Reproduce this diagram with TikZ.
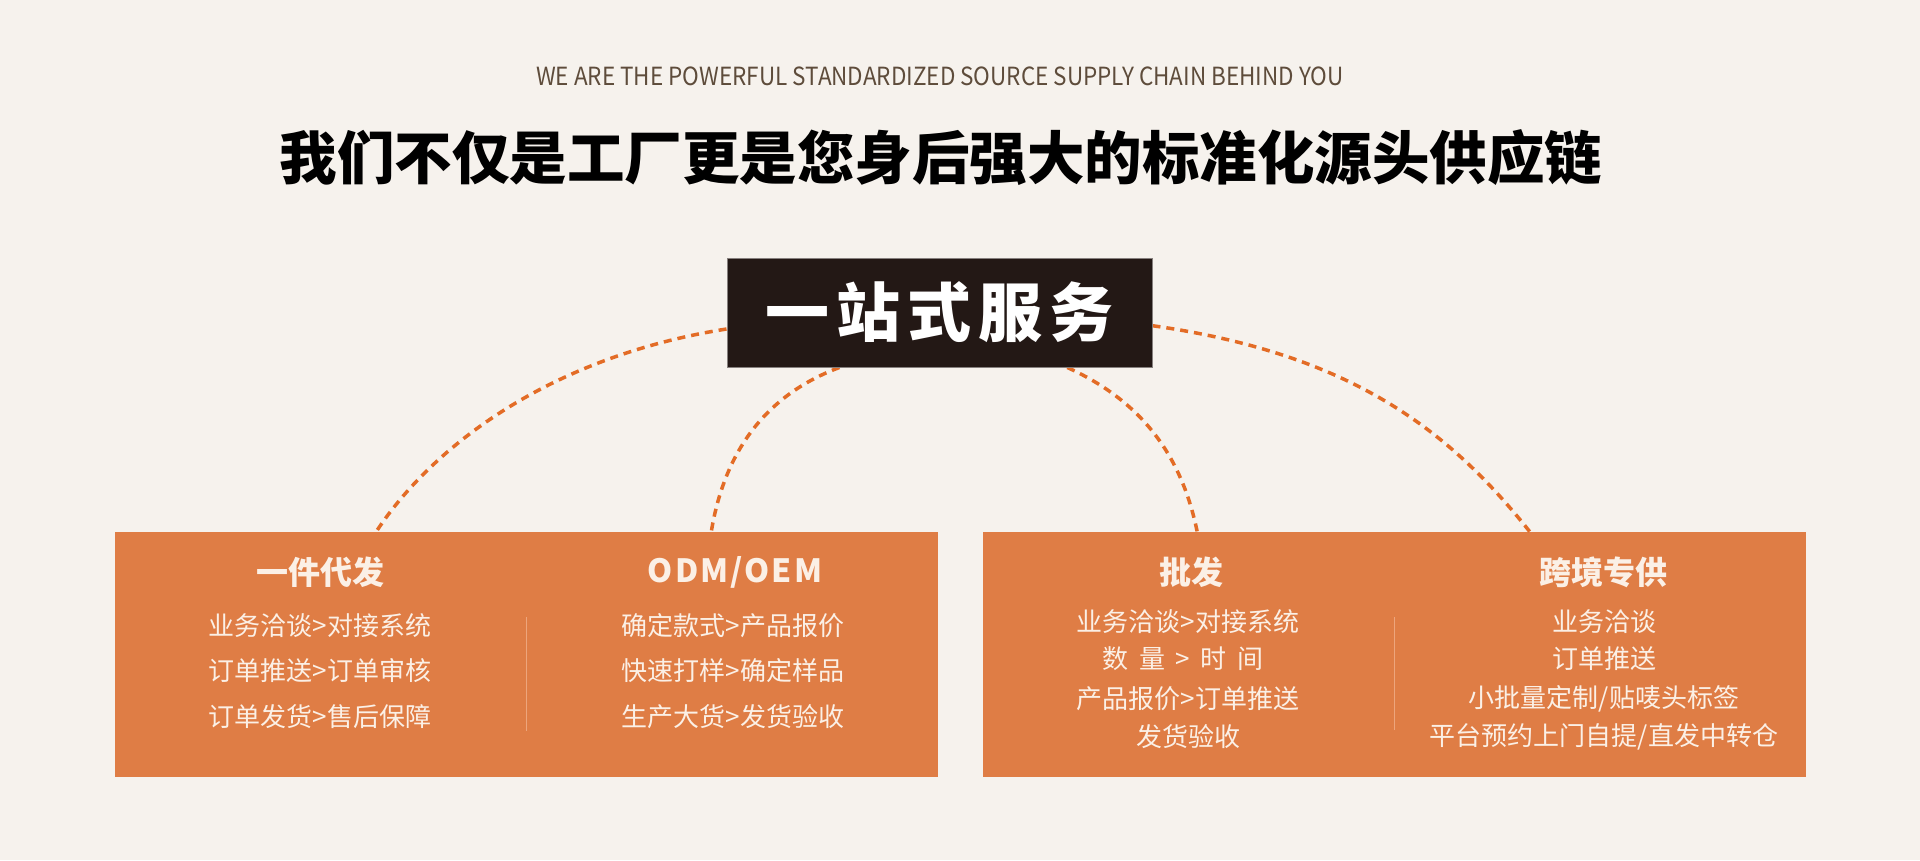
\documentclass[tikz,border=0pt]{standalone}
\usepackage{fontspec}
\setmainfont{Noto Sans CJK SC}
\usetikzlibrary{calc}
\definecolor{bg}{HTML}{F6F2ED}
\definecolor{cardcol}{HTML}{DF7D45}
\definecolor{dashcol}{HTML}{E36C26}
\definecolor{hubcol}{HTML}{231815}
\definecolor{cream}{HTML}{FBF0E6}
\definecolor{subcol}{HTML}{5E4C3B}
\definecolor{divcol}{HTML}{EDA57C}
\begin{document}
\begin{tikzpicture}[x=1pt,y=-1pt,
  arcline/.style={draw=dashcol, line width=3.5pt, dash pattern=on 8pt off 6pt},
  card/.style={fill=cardcol, minimum width=823pt, minimum height=245pt, inner sep=0pt},
  head/.style={text=cream, font=\fontsize{32}{38}\selectfont\bfseries, inner sep=0pt},
  body/.style={text=cream, font=\fontsize{26}{30}\selectfont, inner sep=0pt},
  divider/.style={draw=divcol, line width=1pt}
]
\fill[bg] (0,0) rectangle (1920,860);
\useasboundingbox (0,0) rectangle (1920,860);

% headings
\node[text=subcol, font=\fontsize{25}{30}\selectfont, inner sep=0pt] (sub) at (940,76)
  {\scalebox{0.9}[1]{WE ARE THE POWERFUL STANDARDIZED SOURCE SUPPLY CHAIN BEHIND YOU}};
\node[text=black, font=\fontsize{57.5}{66}\selectfont\bfseries, inner sep=0pt] (title) at (941,158)
  {我们不仅是工厂更是您身后强大的标准化源头供应链};

% nodes
\node[fill=hubcol, draw=hubcol!55!white, line width=1pt, minimum width=425pt, minimum height=109pt, inner sep=0pt] (hub) at (939.5,312.5) {};
\node[card] (L) at (526,654.5) {};
\node[card] (R) at (1394,654.5) {};

% connector end points
\coordinate (s1) at ($(hub.north west)!0.65!(hub.south west)$);
\coordinate (e1) at ($(L.north west)!0.318!(L.north east)$);
\coordinate (s2) at ($(hub.south west)!0.265!(hub.south east)$);
\coordinate (e2) at ($(L.north west)!0.725!(L.north east)$);
\coordinate (s3) at ($(hub.south west)!0.80!(hub.south east)$);
\coordinate (e3) at ($(R.north west)!0.261!(R.north east)$);
\coordinate (s4) at ($(hub.north east)!0.62!(hub.south east)$);
\coordinate (e4) at ($(R.north west)!0.665!(R.north east)$);

\draw[arcline] (s1) .. controls +(-178,28) and +(55,-84) .. (e1);
\draw[arcline] (s2) .. controls +(-75,28) and +(13,-79) .. (e2);
\draw[arcline] (s3) .. controls +(73,33) and +(-16,-78) .. (e3);
\draw[arcline] (s4) .. controls +(198,28) and +(-81,-102) .. (e4);

% hub on top
\node[fill=hubcol, draw=hubcol!55!white, line width=1pt, minimum width=425pt, minimum height=109pt, inner sep=0pt,
  text=white, font=\fontsize{64}{72}\selectfont\bfseries] (hubtext) at (939.5,312.5)
  {一\hspace{7pt}站\hspace{7pt}式\hspace{7pt}服\hspace{7pt}务};

% dividers
\draw[divider] ($(L.north)+(0,85)$) coordinate (d1a) -- ($(L.north)+(0,199)$) coordinate (d1b);
\draw[divider] ($(R.north)+(0,85)$) coordinate (d2a) -- ($(R.north)+(0,198)$) coordinate (d2b);

% left card
\node[head] (h1) at (320,572) {一件代发};
\node[body] (a1) at (320,626) {业务洽谈>对接系统};
\node[body] (a2) at (320,671) {订单推送>订单审核};
\node[body] (a3) at (320,717) {订单发货>售后保障};

\node[head] (h2) at (735,572) {O\hspace{2pt}D\hspace{2pt}M\hspace{2pt}/\hspace{2pt}O\hspace{2pt}E\hspace{2pt}M};
\node[body] (b1) at (733,626) {确定款式>产品报价};
\node[body] (b2) at (733,671) {快速打样>确定样品};
\node[body] (b3) at (733,717) {生产大货>发货验收};

% right card
\node[head] (h3) at (1191,572) {批发};
\node[body] (c1) at (1188,622) {业务洽谈>对接系统};
\node[body] (c2) at (1183,659) {数\hspace{10.5pt}量\hspace{10.5pt}>\hspace{10.5pt}时\hspace{10.5pt}间};
\node[body] (c3) at (1188,699) {产品报价>订单推送};
\node[body] (c4) at (1188,737) {发货验收};

\node[head] (h4) at (1603,572) {跨境专供};
\node[body] (f1) at (1604,622) {业务洽谈};
\node[body] (f2) at (1604,659) {订单推送};
\node[body] (f3) at (1604,699) {小批量定制/贴唛头标签};
\node[body] (f4) at (1604,737) {平台预约上门自提/直发中转仓};
\end{tikzpicture}
\end{document}
